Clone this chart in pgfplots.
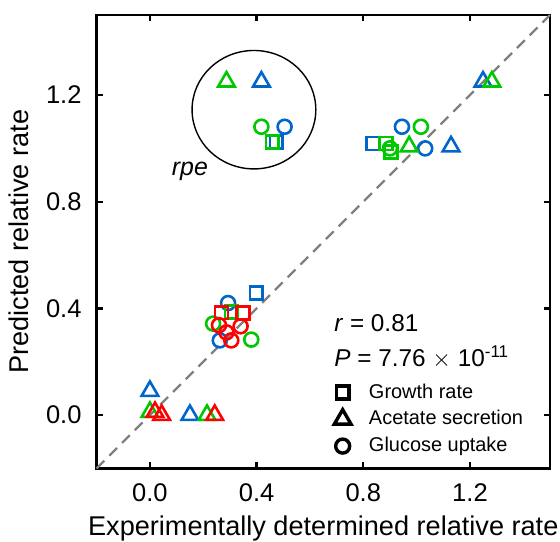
\documentclass[border=0pt]{standalone}
\usepackage{fontspec}
\setmainfont{Liberation Sans}
\usepackage{pgfplots}
\pgfplotsset{compat=1.18}

\definecolor{cblue}{RGB}{0,102,204}
\definecolor{cgreen}{RGB}{0,200,0}
\definecolor{cred}{RGB}{255,0,0}
\definecolor{cgray}{RGB}{128,128,128}

\pgfplotsset{
  sq/.style={only marks, mark=square, mark size=3.2bp, line width=1.3bp},
  tri/.style={only marks, mark=triangle, mark size=4.8bp, line width=1.3bp},
  cir/.style={only marks, mark=o, mark size=3.5bp, line width=1.3bp},
}

\begin{document}
\begin{tikzpicture}
\begin{axis}[
  name=main,
  scale only axis,
  width=226.5bp, height=226.5bp,
  xmin=-0.2, xmax=1.5, ymin=-0.2, ymax=1.5,
  xtick={0,0.4,0.8,1.2}, ytick={0,0.4,0.8,1.2},
  tick align=inside,
  xtick pos=both, ytick pos=both,
  major tick length=3.2bp,
  axis line style={line width=1.2bp},
  every tick/.style={black, line width=1.2bp},
  tick label style={font=\fontsize{12.8}{15}\selectfont},
  xticklabel style={yshift=-4bp},
  yticklabel style={xshift=-4bp},
  /pgf/number format/.cd, fixed, fixed zerofill, precision=1, assume math mode=true,
  /pgfplots/.cd,
  label style={font=\fontsize{13.6}{16}\selectfont},
  xlabel={Experimentally determined relative rate},
  ylabel={Predicted relative rate},
  xlabel style={yshift=-0.3bp},
  ylabel style={yshift=2bp},
  clip=false,
  legend style={draw=none, fill=none, at={(axis cs:0.69,0.134)}, anchor=north west,
    font=\fontsize{10}{12}\selectfont, row sep=0.7bp, inner sep=0pt},
  legend cell align=left,
]

% identity line
\addplot[cgray, line width=1.1bp, dash pattern=on 5.5bp off 3.5bp, forget plot]
  coordinates {(-0.2,-0.2) (1.5,1.5)};

% blue series
\addplot[sq, cblue, forget plot] coordinates {(0.835,1.018) (0.474,1.024) (0.399,0.458)};
\addplot[tri, cblue, forget plot] coordinates {(1.249,1.25) (1.129,1.007) (0.418,1.25) (0.0,0.09) (0.15,0.0)};
\addplot[cir, cblue, forget plot] coordinates {(0.945,1.081) (1.032,1.0) (0.505,1.081) (0.293,0.42) (0.262,0.28)};

% green series
\addplot[sq, cgreen, forget plot] coordinates {(0.885,1.018) (0.904,0.987) (0.459,1.024) (0.305,0.386)};
\addplot[tri, cgreen, forget plot] coordinates {(1.282,1.25) (0.972,1.007) (0.287,1.25) (0.0,0.011) (0.214,0.0)};
\addplot[cir, cgreen, forget plot] coordinates {(1.016,1.081) (0.9,1.0) (0.418,1.081) (0.237,0.343) (0.38,0.283)};

% red series
\addplot[sq, cred, forget plot] coordinates {(0.268,0.384) (0.349,0.382)};
\addplot[tri, cred, forget plot] coordinates {(0.019,0.011) (0.044,0.0) (0.243,0.0)};
\addplot[cir, cred, forget plot] coordinates {(0.259,0.337) (0.287,0.31) (0.34,0.333) (0.305,0.28)};

% legend (marker shapes, drawn a little heavier)
\addlegendimage{sq, black, line width=1.7bp}
\addlegendimage{tri, black, line width=1.7bp}
\addlegendimage{cir, black, line width=1.7bp}
\legend{\hspace*{7bp}Growth rate, \hspace*{7bp}Acetate secretion, \hspace*{7bp}Glucose uptake}

% annotation of the rpe cluster
\draw[black, line width=0.7bp] (axis cs:0.39,1.145) ellipse [x radius=0.232, y radius=0.222];
\node[font=\fontsize{12.5}{15}\selectfont\itshape] at (axis cs:0.15,0.915) {rpe};

% statistics
\node[anchor=west, font=\fontsize{12.2}{14}\selectfont] at (axis cs:0.665,0.345)
  {\textit{r} = 0.81};
\node[anchor=west, font=\fontsize{12.2}{14}\selectfont] at (axis cs:0.665,0.218)
  {\textit{P} = 7.76 $\times$ 10\textsuperscript{-11}};
\end{axis}
\pgfresetboundingbox
\path[use as bounding box] ([xshift=-48.25bp,yshift=-36.5bp]main.south west)
  rectangle ([xshift=5bp,yshift=7.5bp]main.north east);
\end{tikzpicture}
\end{document}
